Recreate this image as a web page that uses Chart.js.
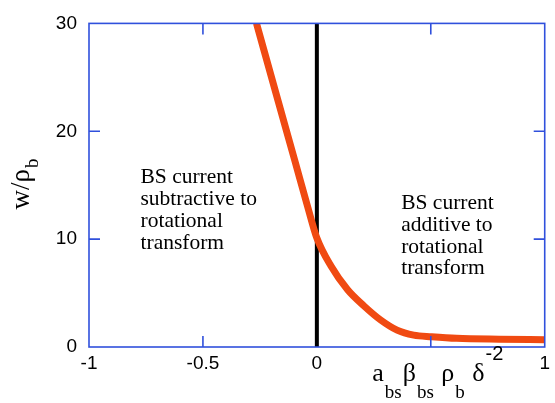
<!DOCTYPE html>
<html>
<head>
<meta charset="utf-8">
<script src="https://cdn.jsdelivr.net/npm/chart.js@4"></script>
<style>
  html, body { margin: 0; padding: 0; background: #fff; }
  #wrap { width: 555px; height: 403px; }
</style>
</head>
<body>
<div id="wrap"><canvas id="chart"></canvas></div>
<script>
// curve
const xVals = [-0.265, -0.17, -0.097, -0.039, 0, 0.062, 0.135, 0.207, 0.28, 0.352, 0.425, 0.504, 0.613, 0.8, 1.0];
const wVals = [30, 22.8, 17.3, 12.9, 10.1, 7.5, 5.3, 3.8, 2.5, 1.56, 1.1, 0.95, 0.8, 0.72, 0.68];
const dividerX = [0, 0];
const dividerY = [0, 30];
const xTicks = [-1, -0.5, 0, 0.5, 1];
const xTickShown = ['-1', '-0.5', '0', '', '1'];
const yTicks = [0, 10, 20, 30];
const leftNote = ['BS current', 'subtractive to', 'rotational', 'transform'];
const rightNote = ['BS current', 'additive to', 'rotational', 'transform'];

const BLUE = '#3050dc';
const ORANGE = '#f04a12';
const SANS = '"Liberation Sans", Arial, sans-serif';
const SERIF = '"Liberation Serif", "Times New Roman", serif';

const curve = xVals.map((x, i) => ({x: x, y: wVals[i]}));
const divider = dividerX.map((x, i) => ({x: x, y: dividerY[i]}));

// box, inward ticks, notes and axis titles
const decor = {
  id: 'decor',
  afterDatasetsDraw(chart) {
    const c = chart.ctx;
    const a = chart.chartArea;
    const sx = chart.scales.x, sy = chart.scales.y;
    c.save();
    c.strokeStyle = BLUE;
    c.lineWidth = 1.6;
    c.strokeRect(a.left, a.top, a.right - a.left, a.bottom - a.top);
    c.beginPath();
    [-0.5, 0.5].forEach(v => {
      const px = sx.getPixelForValue(v);
      c.moveTo(px, a.bottom); c.lineTo(px, a.bottom - 11);
      c.moveTo(px, a.top); c.lineTo(px, a.top + 11);
    });
    [10, 20].forEach(v => {
      const py = sy.getPixelForValue(v);
      c.moveTo(a.left, py); c.lineTo(a.left + 11, py);
      c.moveTo(a.right, py); c.lineTo(a.right - 11, py);
    });
    c.stroke();

    // notes
    c.fillStyle = '#000';
    c.font = '21.5px ' + SERIF;
    c.textBaseline = 'middle';
    c.textAlign = 'left';
    leftNote.forEach((t, i) => {
      c.fillText(t, sx.getPixelForValue(-0.774), sy.getPixelForValue(15.7) + i * 22);
    });
    rightNote.forEach((t, i) => {
      c.fillText(t, sx.getPixelForValue(0.37), sy.getPixelForValue(13.3) + i * 21.7);
    });

    // x title: a_bs beta_bs rho_b delta^-2
    c.textBaseline = 'alphabetic';
    let x = sx.getPixelForValue(0.243);
    const base = a.bottom + 34;
    const parts = [
      ['a', 26, 0, SERIF], ['bs', 19, 17, SERIF],
      ['\u03b2', 26, 0, SERIF], ['bs', 19, 17, SERIF],
      [' \u03c1', 26, 0, SERIF], ['b', 19, 17, SERIF],
      [' \u03b4', 26, 0, SERIF], ['-2', 20, -21, SANS]
    ];
    parts.forEach(p => {
      c.font = p[1] + 'px ' + p[3];
      c.fillText(p[0], x, base + p[2]);
      x += c.measureText(p[0]).width + 1;
    });

    // y title: w/rho_b rotated
    c.translate(29, sy.getPixelForValue(12.75));
    c.rotate(-Math.PI / 2);
    c.font = '27px ' + SERIF;
    c.fillText('w/\u03c1', 0, 0);
    const wTitle = c.measureText('w/\u03c1').width + 1;
    c.font = '19px ' + SERIF;
    c.fillText('b', wTitle, 9);
    c.restore();
  }
};

new Chart(document.getElementById('chart'), {
  type: 'scatter',
  data: {
    datasets: [
      {
        data: curve, showLine: true, borderColor: ORANGE, borderWidth: 7,
        pointRadius: 0, cubicInterpolationMode: 'monotone', borderCapStyle: 'butt'
      },
      {
        data: divider, showLine: true, borderColor: '#000', borderWidth: 4,
        pointRadius: 0
      }
    ]
  },
  options: {
    responsive: true,
    maintainAspectRatio: false,
    animation: false,
    layout: { padding: { top: 20, right: 6, left: 0, bottom: 0 } },
    plugins: { legend: { display: false }, tooltip: { enabled: false } },
    scales: {
      x: {
        type: 'linear', min: -1, max: 1,
        afterBuildTicks: s => { s.ticks = xTicks.map(v => ({value: v})); },
        afterFit: s => { s.height = 56; },
        grid: { display: false, drawTicks: false },
        border: { display: false },
        ticks: {
          color: '#000', font: { family: SANS, size: 19 }, padding: 5,
          maxRotation: 0, autoSkip: false,
          callback: v => xTickShown[xTicks.indexOf(v)]
        }
      },
      y: {
        type: 'linear', min: 0, max: 30,
        afterBuildTicks: s => { s.ticks = yTicks.map(v => ({value: v})); },
        afterFit: s => { s.width = 89; },
        grid: { display: false, drawTicks: false },
        border: { display: false },
        ticks: { color: '#000', font: { family: SANS, size: 19 }, padding: 12 }
      }
    }
  },
  plugins: [decor]
});
</script>
</body>
</html>
